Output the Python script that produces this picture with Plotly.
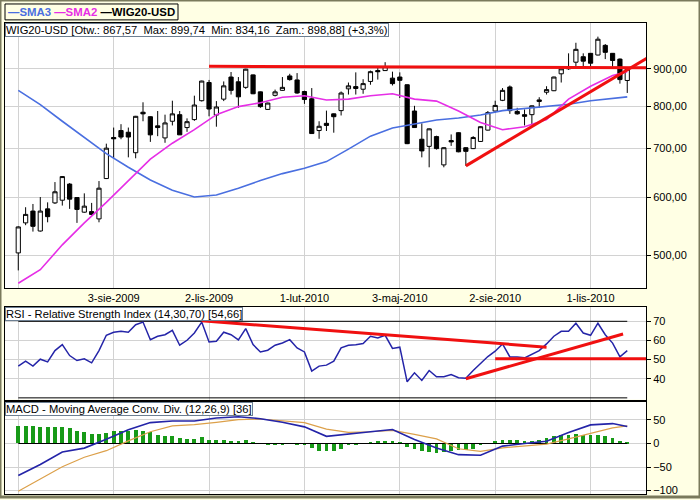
import math
import pandas as pd
import plotly.graph_objects as go

# ---------------- data (weekly WIG20-USD) ----------------
dates = pd.date_range('2009-05-04', periods=84, freq='7D')

opens = [504, 554, 575, 540, 579, 590, 595, 626, 600, 573,
         574, 561, 637, 725, 741, 737, 691, 785, 774, 752,
         724, 763, 779, 748, 767, 814, 862, 778, 818, 877,
         864, 849, 883, 837, 792, 828, 841, 880, 869, 838,
         819, 741, 758, 781, 789, 845, 851, 844, 865, 895,
         895, 874, 877, 856, 788, 721, 705, 727, 665, 718,
         736, 702, 700, 716, 742, 788, 815, 850, 787, 779,
         779, 812, 836, 840, 886, 900, 919, 935, 945, 940,
         969, 945, 928, 867.57]
highs = [548, 582, 588, 601, 591, 630, 642, 628, 600, 608,
         590, 632, 711, 748, 756, 748, 776, 810, 775, 788,
         779, 814, 788, 770, 827, 867, 869, 813, 865, 891,
         877, 900, 884, 838, 809, 843, 877, 886, 888, 840,
         847, 763, 789, 782, 838, 862, 890, 871, 895, 902,
         919, 892, 890, 857, 801, 758, 746, 729, 703, 732,
         737, 703, 728, 751, 788, 814, 847, 854, 796, 792,
         802, 823, 852, 878, 906, 945, 977, 945, 946, 996,
         973, 946, 930, 899.74]
lows = [477, 550, 539, 539, 555, 588, 585, 579, 554, 572,
        567, 555, 636, 679, 721, 681, 679, 763, 715, 728,
        713, 753, 731, 738, 764, 812, 775, 750, 813, 830,
        796, 845, 831, 796, 791, 825, 840, 867, 832, 806,
        734, 722, 740, 736, 777, 830, 830, 832, 856, 870,
        894, 854, 821, 710, 747, 681, 660, 698, 660, 706,
        692, 663, 699, 715, 741, 784, 813, 781, 779, 753,
        755, 796, 830, 839, 862, 897, 906, 906, 906, 939,
        928, 906, 859, 834.16]
closes = [547, 569, 548, 575, 565, 611, 641, 597, 578, 584,
          569, 618, 701, 722, 726, 726, 775, 781, 731, 748,
          759, 781, 731, 762, 803, 866, 793, 798, 853, 841,
          824, 899, 832, 799, 808, 837, 849, 870, 834, 817,
          734, 751, 753, 774, 834, 853, 846, 859, 892, 892,
          906, 859, 868, 711, 748, 695, 745, 700, 702, 715,
          693, 694, 725, 750, 784, 802, 841, 789, 781, 775,
          801, 816, 843, 877, 900, 906, 957, 922, 916, 988,
          948, 924, 870, 898.88]

# moving averages / MACD lines read every third week
line_idx = list(range(0, 82, 3)) + [83]
sma3 = [841, 804, 763, 725, 689, 660, 634, 614, 601, 605,
        618, 633, 647, 658, 672, 699, 728, 747, 756, 766,
        771, 778, 789, 794, 800, 805, 814, 820, 824]
sma2 = [458, 478, 517, 554, 591, 633, 677, 712, 743, 779,
        799, 809, 823, 827, 816, 818, 827, 832, 818, 813,
        788, 760, 743, 750, 767, 818, 852, 881, 892]
macd = [-68, -44.7, -18.1, -9.8, 9, 29, 44.4, 47.8, 47.8, 54,
        56.9, 52.7, 45, 35.3, 15.2, 19.4, 24.9, 29.8, 8.3, -9.8,
        -23.7, -25, -5.6, 0, 4.8, 23.5, 39.5, 42.3, 36]
signal = [-101.5, -75, -49.4, -29.2, -15.3, 5.5, 24.9, 37.4, 40.2, 45,
          50.6, 52, 47.8, 44.4, 30.5, 23.5, 24.9, 27.7, 19.4, 9.7,
          -11.2, -16.7, -9.1, -5.6, -1.5, 9.7, 20.8, 33.3, 37.4]
hist = [37.4, 37.4, 36, 35.3, 34.6, 34.6, 35.3, 32.6, 27, 23.5,
        20.8, 19.4, 22.8, 27, 27, 27, 27.7, 27, 23.5, 18.7,
        16.6, 15.2, 11, 9, 9.6, 13.1, 8.3, 6.9, 6.9, 5.5,
        4.8, 6.9, 2.7, 0.3, -2, -2, -2, -0.5, -3, -4.2,
        -9.8, -15.3, -15.3, -15.3, -11, -4.2, -2.8, -1, 2.7, 4.1,
        6.2, 4.1, 2.7, -7.7, -11.2, -16.7, -18.1, -20.2, -18.1, -16.7,
        -14.6, -13.3, -11.2, -4.2, -0.5, 4.9, 8.3, 8.3, 8.3, 6.2,
        6.2, 8.3, 12.4, 15.2, 18, 18, 20.1, 18, 18, 18.7,
        15.2, 11, 4.8, 1.3]
rsi = [46.6, 49.2, 46.6, 50.2, 48.8, 54.7, 57.8, 52.1, 49.5, 50.4,
       48.3, 54.7, 62.7, 64.3, 64.8, 64.3, 68.2, 69.6, 60.4, 62.2,
       63.0, 65.3, 57.5, 60.1, 63.9, 69.6, 59.2, 59.6, 64.3, 63.0,
       60.3, 66.2, 57.8, 54.0, 54.9, 57.5, 58.7, 60.4, 56.1, 54.0,
       44.0, 46.6, 47.1, 49.2, 56.1, 57.5, 57.8, 58.4, 62.2, 61.3,
       62.7, 55.8, 56.5, 38.4, 43.1, 39.1, 44.3, 41.0, 41.0, 42.2,
       40.5, 40.2, 44.3, 47.8, 51.6, 54.4, 58.2, 51.4, 51.4, 50.9,
       53.0, 54.7, 58.2, 62.2, 64.8, 64.8, 69.0, 63.9, 62.7, 69.0,
       63.0, 58.6, 51.4, 54.66]

# hand-drawn trend lines (date, value)
price_resist = (['2009-11-02', '2010-12-26'], [907, 903])
price_support = (['2010-07-05', '2010-12-26'], [663, 933])
rsi_down = (['2009-10-26', '2010-09-20'], [70.3, 56.5])
rsi_up = (['2010-07-05', '2010-12-02'], [40.0, 63.4])
rsi_flat = (['2010-08-02', '2010-12-26'], [50.4, 50.4])

grid_dates = ['2009-05-04', '2009-08-03', '2009-11-02', '2010-02-01',
              '2010-05-03', '2010-08-02', '2010-11-01']
grid_text = ['', '3-sie-2009', '2-lis-2009', '1-lut-2010',
             '3-maj-2010', '2-sie-2010', '1-lis-2010']
price_ticks = [500, 600, 700, 800, 900]
price_text = ['500,00', '600,00', '700,00', '800,00', '900,00']
rsi_ticks = [40, 50, 60, 70]
macd_ticks = [-100, -50, 0, 50]

# ---------------- styling ----------------
W, H = 700, 500
BG = '#FFFFE4'
GRID = '#D2D2D2'
FONT = 'Liberation Sans, Arial, sans-serif'
BLUE = '#4a6fe0'
MAG = '#e62ee6'
RED = '#f01010'
NAVY = '#2424a8'


def fx(p):
    return p / W


def fy(p):
    return 1 - p / H


x_range = ['2009-04-21 08:00', '2010-12-23 21:00']
line_dates = [dates[i] for i in line_idx]
last = [dates[0], dates[-1]]

fig = go.Figure()

# main panel
fig.add_trace(go.Scatter(x=line_dates, y=sma3, mode='lines',
                         line=dict(color=BLUE, width=1.6), xaxis='x', yaxis='y'))
fig.add_trace(go.Scatter(x=line_dates, y=sma2, mode='lines',
                         line=dict(color=MAG, width=1.6), xaxis='x', yaxis='y'))
fig.add_trace(go.Candlestick(
    x=dates, open=opens, high=highs, low=lows, close=closes,
    increasing=dict(line=dict(color='black', width=1), fillcolor='white'),
    decreasing=dict(line=dict(color='black', width=1), fillcolor='black'),
    whiskerwidth=0, xaxis='x', yaxis='y'))
for xs, ys in (price_resist, price_support):
    fig.add_trace(go.Scatter(x=xs, y=ys, mode='lines',
                             line=dict(color=RED, width=3), xaxis='x', yaxis='y'))

# RSI panel
for lvl in (70, 30):
    fig.add_trace(go.Scatter(x=last, y=[lvl, lvl], mode='lines',
                             line=dict(color='black', width=1), xaxis='x2', yaxis='y2'))
fig.add_trace(go.Scatter(x=dates, y=rsi, mode='lines',
                         line=dict(color=NAVY, width=1.5), xaxis='x2', yaxis='y2'))
for xs, ys in (rsi_down, rsi_up, rsi_flat):
    fig.add_trace(go.Scatter(x=xs, y=ys, mode='lines',
                             line=dict(color=RED, width=3), xaxis='x2', yaxis='y2'))

# MACD panel
fig.add_trace(go.Bar(x=dates, y=hist, marker=dict(color='#179a17', line=dict(width=0)),
                     width=3.6 * 86400000, xaxis='x3', yaxis='y3'))
fig.add_trace(go.Scatter(x=last, y=[0, 0], mode='lines',
                         line=dict(color='black', width=1.2), xaxis='x3', yaxis='y3'))
fig.add_trace(go.Scatter(x=line_dates, y=signal, mode='lines',
                         line=dict(color='#dca04a', width=1.2), xaxis='x3', yaxis='y3'))
fig.add_trace(go.Scatter(x=line_dates, y=macd, mode='lines',
                         line=dict(color=NAVY, width=1.6), xaxis='x3', yaxis='y3'))

xdom = [fx(5), fx(646)]
common_x = dict(type='date', range=x_range, domain=xdom, tickvals=grid_dates,
                ticktext=grid_text, showgrid=True, gridcolor=GRID, gridwidth=1,
                showline=True, mirror=True, linecolor='black', linewidth=1,
                ticks='', zeroline=False, fixedrange=True,
                tickfont=dict(family=FONT, size=11, color='black'))
common_y = dict(side='right', showgrid=True, gridcolor=GRID, showline=True,
                mirror=True, linecolor='black', linewidth=1, ticks='outside',
                ticklen=4, tickcolor='black', zeroline=False,
                tickfont=dict(family=FONT, size=11, color='black'))

fig.update_layout(
    width=W, height=H, margin=dict(l=0, r=0, t=0, b=0),
    paper_bgcolor=BG, plot_bgcolor='white', showlegend=False,
    boxgap=0.18, bargap=0,
    font=dict(family=FONT, size=11, color='black'),
    xaxis=dict(common_x, anchor='y', rangeslider=dict(visible=False)),
    xaxis2=dict(common_x, anchor='y2', showticklabels=False, matches='x'),
    xaxis3=dict(common_x, anchor='y3', showticklabels=False, matches='x'),
    yaxis=dict(common_y, anchor='x', type='log', domain=[fy(290), fy(23)],
               range=[math.log10(450.9), math.log10(1040.2)],
               tickvals=price_ticks, ticktext=price_text),
    yaxis2=dict(common_y, anchor='x2', domain=[fy(402), fy(309)],
                range=[29.1, 77.4], tickvals=rsi_ticks),
    yaxis3=dict(common_y, anchor='x3', domain=[fy(496.7), fy(404.5)],
                range=[-106.7, 88], tickvals=macd_ticks),
)

# outer frame and legend box
fig.add_shape(type='rect', xref='paper', yref='paper', x0=0, x1=1, y0=0, y1=1,
              line=dict(color='#7a7a5c', width=3), fillcolor='rgba(0,0,0,0)')
fig.add_shape(type='rect', xref='paper', yref='paper', x0=fx(5), x1=fx(178),
              y0=fy(20), y1=fy(4), line=dict(color='black', width=1),
              fillcolor=BG)
fig.add_annotation(
    xref='paper', yref='paper', x=fx(6), y=fy(12), xanchor='left', yanchor='middle',
    showarrow=False, font=dict(family=FONT, size=11.4, color='black'),
    text=("<b><span style='color:%s'>\u2014SMA3</span> "
          "<span style='color:%s'>\u2014SMA2</span> \u2014WIG20-USD</b>") % (BLUE, MAG))

NB = '\u00a0'
titles = [
    (23, 'WIG20-USD [Otw.: 867,57' + NB * 2 + 'Max: 899,74' + NB * 2 + 'Min: 834,16'
         + NB * 2 + 'Zam.: 898,88] (+3,3%)'),
    (309, 'RSI - Relative Strength Index (14,30,70) [54,66]'),
    (404.5, 'MACD - Moving Average Conv. Div. (12,26,9) [36]'),
]
for ytop, txt in titles:
    fig.add_annotation(xref='paper', yref='paper', x=fx(5), y=fy(ytop),
                       xanchor='left', yanchor='top', showarrow=False, text=txt,
                       font=dict(family=FONT, size=11.2, color='black'),
                       bgcolor='white', bordercolor='#6d7f92', borderwidth=1,
                       borderpad=0)

fig.write_html('out.html')
